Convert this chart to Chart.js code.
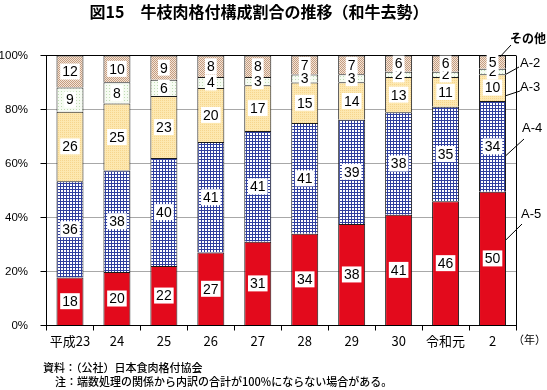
<!DOCTYPE html>
<html>
<head>
<meta charset="utf-8">
<script src="https://cdn.jsdelivr.net/npm/chart.js@4"></script>
<style>
  html, body { margin: 0; padding: 0; background: #fff; }
  #wrap { width: 547px; height: 390px; }
</style>
</head>
<body>
<div id="wrap"><canvas id="myChart" width="547" height="390"></canvas></div>
<script>
// data (percent, as printed on the chart)
var years = ['平成23', '24', '25', '26', '27', '28', '29', '30', '令和元', '2'];
var gradeA5 = [18, 20, 22, 27, 31, 34, 38, 41, 46, 50];
var gradeA4 = [36, 38, 40, 41, 41, 41, 39, 38, 35, 34];
var gradeA3 = [26, 25, 23, 20, 17, 15, 14, 13, 11, 10];
var gradeA2 = [9, 8, 6, 4, 3, 3, 3, 2, 2, 2];
var others  = [12, 10, 9, 8, 8, 7, 7, 6, 6, 5];
var seriesNames = ['A-5', 'A-4', 'A-3', 'A-2', 'その他'];

var JP = '"Noto Sans CJK JP", "Noto Sans", sans-serif';
var LAT = '"Liberation Sans", Arial, sans-serif';

function makePattern(size, bg, fg, cells) {
    var c = document.createElement('canvas');
    c.width = size; c.height = size;
    var g = c.getContext('2d');
    g.fillStyle = bg;
    g.fillRect(0, 0, size, size);
    g.fillStyle = fg;
    cells.forEach(function(p) { g.fillRect(p[0], p[1], 1, 1); });
    return g.createPattern(c, 'repeat');
}

var ctx = document.getElementById('myChart').getContext('2d');

// blue grid, brown crosshatch, green dots, orange dots
var bluePat = makePattern(3, '#ffffff', '#2f3f9e', [[0,0],[1,0],[2,0],[0,1],[0,2]]);
var brownPat = makePattern(4, '#f3e4d6', '#c49c80', [[0,0],[2,0],[1,1],[3,1],[0,2],[2,2],[1,3],[3,3]]);
var greenPat = makePattern(3, '#f6fbf2', '#bfdcb4', [[1,1]]);
var orangePat = makePattern(2, '#fde8b0', '#f6d58e', [[0,0]]);

var raw = [gradeA5, gradeA4, gradeA3, gradeA2, others];
// bars are drawn as 100% stacks (some years sum to 101 from rounding)
var totals = years.map(function(y, i) {
    return raw.reduce(function(s, arr) { return s + arr[i]; }, 0);
});
function share(arr) {
    return arr.map(function(v, i) { return v / totals[i] * 100; });
}
var fills = ['#e30a1c', bluePat, orangePat, greenPat, brownPat];

var datasets = raw.map(function(arr, k) {
    return {
        label: seriesNames[k],
        data: share(arr),
        shown: arr,
        backgroundColor: fills[k],
        borderColor: '#1a1a1a',
        borderWidth: { top: 1, left: 1, right: 1, bottom: 0 },
        borderSkipped: false,
        barPercentage: 0.575,
        categoryPercentage: 1
    };
});

var decorPlugin = {
    id: 'decor',
    afterDatasetsDraw: function(chart) {
        var c = chart.ctx;
        var area = chart.chartArea;
        c.save();
        // right border
        c.strokeStyle = '#000';
        c.lineWidth = 1;
        c.beginPath();
        c.moveTo(area.right + 0.5, area.top);
        c.lineTo(area.right + 0.5, area.bottom);
        c.stroke();

        // value boxes
        c.font = '14px ' + LAT;
        c.textAlign = 'center';
        c.textBaseline = 'middle';
        chart.data.datasets.forEach(function(ds, k) {
            var meta = chart.getDatasetMeta(k);
            meta.data.forEach(function(bar, i) {
                var txt = String(ds.shown[i]);
                var cy = (bar.y + bar.base) / 2;
                var w = c.measureText(txt).width + 4;
                c.fillStyle = '#fff';
                c.fillRect(bar.x - w / 2, cy - 8, w, 16);
                c.fillStyle = '#000';
                c.fillText(txt, bar.x, cy + 1);
            });
        });

        // series names with leader lines on the last bar
        var last = years.length - 1;
        var leaders = [
            { f: 0.36, dx: 0, end: [522, 224], at: [521, 214], bold: false },
            { f: 0.6, dx: 0, end: [524, 139], at: [522, 128], bold: false },
            { f: 0.8, dx: 0, end: [520, 91], at: [520, 87], bold: false },
            { f: 1.0, dx: 0, end: [519, 67], at: [520, 63], bold: false },
            { f: 0.1, dx: -6, end: [511, 45], at: [510, 38], bold: true }
        ];
        c.strokeStyle = '#000';
        c.lineWidth = 1;
        c.textAlign = 'left';
        leaders.forEach(function(L, k) {
            var bar = chart.getDatasetMeta(k).data[last];
            var sx = bar.x + bar.width / 2 + L.dx;
            var sy = bar.y + L.f * (bar.base - bar.y);
            c.beginPath();
            c.moveTo(sx, sy);
            c.lineTo(L.end[0], L.end[1]);
            c.stroke();
            c.fillStyle = '#000';
            c.font = L.bold ? 'bold 12px ' + JP : '13px ' + LAT;
            c.fillText(seriesNames[k], L.at[0], L.at[1]);
        });

        // title, unit and notes
        c.fillStyle = '#000';
        c.textAlign = 'center';
        c.font = 'bold 16px ' + JP;
        c.fillText('図15　牛枝肉格付構成割合の推移（和牛去勢）', 259, 12);
        c.textAlign = 'left';
        c.font = '11px ' + JP;
        c.fillText('（年）', 513, 340);
        c.font = '500 11px ' + JP;
        c.fillText('資料：（公社）日本食肉格付協会', 43, 368);
        c.fillText('注：端数処理の関係から内訳の合計が100%にならない場合がある。', 55, 382);
        c.restore();
    }
};

var chart = new Chart(ctx, {
    type: 'bar',
    data: {
        labels: years,
        datasets: datasets
    },
    options: {
        responsive: false,
        animation: false,
        layout: {
            padding: { top: 55.5, left: 0, right: 31, bottom: 39.5 }
        },
        plugins: {
            legend: { display: false },
            title: { display: false },
            tooltip: { enabled: false }
        },
        scales: {
            x: {
                stacked: true,
                afterFit: function(scale) { scale.height = 25; },
                grid: {
                    offset: true,
                    drawOnChartArea: false,
                    drawTicks: true,
                    tickLength: 5,
                    color: '#000'
                },
                border: { color: '#000' },
                ticks: {
                    color: '#000',
                    padding: 3,
                    maxRotation: 0,
                    autoSkip: false,
                    font: { family: JP, size: 13 }
                }
            },
            y: {
                stacked: true,
                min: 0,
                max: 100,
                afterFit: function(scale) { scale.width = 46.5; },
                grid: {
                    color: function(c) {
                        return c.tick && c.tick.value === 100 ? '#000' : '#a8a8a8';
                    },
                    tickColor: '#000',
                    tickLength: 6
                },
                border: { color: '#000' },
                ticks: {
                    stepSize: 20,
                    color: '#000',
                    padding: 12.5,
                    font: { family: LAT, size: 11.5 },
                    callback: function(v) { return v + '%'; }
                }
            }
        }
    },
    plugins: [decorPlugin]
});
</script>
</body>
</html>
